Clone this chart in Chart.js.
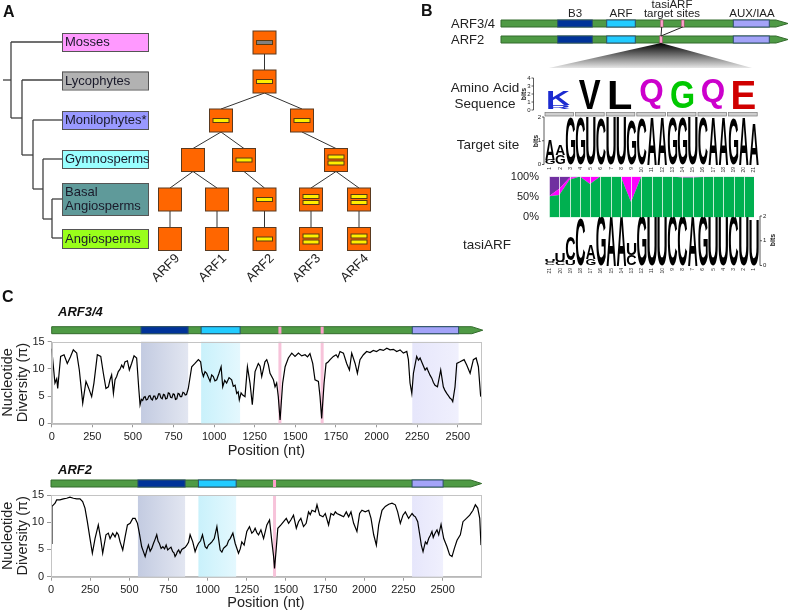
<!DOCTYPE html>
<html>
<head>
<meta charset="utf-8">
<script src="https://cdn.jsdelivr.net/npm/chart.js@4.4.1/dist/chart.umd.min.js"></script>
<style>
body { margin: 0; background: #fff; width: 792px; height: 613px; overflow: hidden; position: relative; font-family: "Liberation Sans", Arial, sans-serif; }
canvas { position: absolute; }
.lbl { position: absolute; font-weight: bold; color: #111; z-index: 5; }
</style>
</head>
<body>
<canvas id="diagram" width="792" height="613" style="left:0;top:0"></canvas>
<div class="lbl" style="left:3px;top:3px;font-size:16px">A</div>
<div class="lbl" style="left:421px;top:2px;font-size:16px">B</div>
<div class="lbl" style="left:2px;top:288px;font-size:16px">C</div>
<div class="lbl" style="left:58px;top:304px;font-size:13px;font-style:italic">ARF3/4</div>
<div class="lbl" style="left:58px;top:462px;font-size:13px;font-style:italic">ARF2</div>
<canvas id="arf34Chart" width="490" height="142" style="left:0;top:318px"></canvas>
<canvas id="arf2Chart" width="490" height="150" style="left:0;top:462px"></canvas>
<canvas id="pairChart" width="260" height="58" style="left:505px;top:168px"></canvas>
<script>
// ---- panel C data: sliding-window nucleotide diversity ----
var arf34Pos = [0, 20, 31, 37, 55, 76, 96, 115, 133, 154, 170, 191, 211, 222, 232, 246, 260, 281, 302, 318,
    334, 349, 359, 369, 380, 390, 400, 410, 420, 431, 441, 451, 466, 478, 492, 507, 523, 536, 544, 552,
    560, 568, 575, 582, 590, 598, 605, 612, 620, 628, 635, 642, 650, 658, 665, 672, 680, 688, 695, 702,
    710, 718, 725, 732, 740, 748, 755, 762, 770, 778, 785, 792, 800, 808, 815, 822, 830, 841, 862, 882,
    903, 917, 925, 934, 944, 954, 965, 975, 985, 995, 1005, 1016, 1030, 1043, 1053, 1065, 1077, 1092, 1108, 1118,
    1129, 1139, 1148, 1155, 1166, 1176, 1190, 1205, 1221, 1235, 1252, 1272, 1283, 1293, 1313, 1324, 1334, 1344, 1365, 1375,
    1385, 1395, 1406, 1422, 1437, 1457, 1478, 1498, 1519, 1539, 1560, 1575, 1590, 1607, 1621, 1642, 1652, 1662, 1677, 1689,
    1700, 1714, 1734, 1751, 1762, 1775, 1796, 1816, 1833, 1847, 1868, 1882, 1898, 1919, 1939, 1960, 1980, 2000, 2021, 2042,
    2063, 2083, 2104, 2124, 2145, 2165, 2186, 2196, 2206, 2217, 2227, 2247, 2258, 2268, 2282, 2299, 2310, 2319, 2330, 2340,
    2350, 2360, 2375, 2395, 2411, 2420, 2432, 2442, 2453, 2462, 2469, 2483, 2494, 2514, 2539, 2555, 2576, 2596, 2613, 2627, 2641];
var arf34Pi = [13.7, 7.4, 8.2, 6.4, 12.3, 12.6, 11, 12.2, 13.5, 12.9, 9.8, 3.7, 7.7, 6.9, 6.1, 4.9, 7.4, 12.6, 12.3, 9.2,
    6.4, 6.7, 8, 8.9, 5.5, 8, 8.6, 9.5, 9.9, 10.7, 10.2, 11.3, 11.5, 9.8, 11, 12.4, 12, 6.4, 3.4, 4.4,
    4.2, 4.8, 4.9, 4.3, 4.4, 5.0, 5.1, 4.5, 4.3, 5.0, 5.0, 4.4, 4.6, 5.4, 5.4, 4.7, 4.5, 5.3, 5.2, 4.5,
    4.6, 5.6, 5.5, 4.8, 4.7, 5.4, 5.3, 4.4, 4.5, 5.5, 5.4, 4.9, 4.9, 5.7, 5.6, 5.2, 5.3, 6.4, 10.4, 11,
    11.7, 11.3, 9.5, 8.6, 9.5, 9.2, 8.4, 7.7, 8.9, 8.6, 7.8, 8, 9.2, 10.4, 6.7, 7.9, 7.4, 8.4, 8, 6.8,
    7, 5.5, 5.8, 4.3, 5.6, 5.2, 4.9, 10.4, 7.4, 3.4, 9.5, 11, 10.5, 8.6, 11.3, 11.7, 10.8, 9.2, 8, 6.7,
    7.4, 4.9, 0.6, 7.4, 10.4, 12, 12.9, 12.3, 12.9, 12.4, 12.6, 12.2, 12.8, 11, 8, 7.7, 4.9, 0.9, 7.4, 11,
    11.2, 11.7, 12.3, 12.6, 12.1, 13.2, 12.9, 11, 9.8, 12.9, 11, 9.2, 11.7, 12.6, 13.2, 13, 13.4, 13.2, 13.6, 13.4,
    13.8, 13.5, 13.6, 13.2, 13.5, 12.9, 13.2, 11.7, 7.4, 5.5, 9.2, 12.3, 11.6, 12, 11, 9.8, 10.2, 9.5, 8.8, 8.3,
    7.5, 7, 6.7, 9.8, 6.7, 6.1, 5.5, 5.1, 4.6, 4.4, 4, 6.7, 11, 11.3, 11.7, 10.7, 9.2, 11.7, 12, 10.4, 4.9];

var arf2Pos = [0, 6, 26, 36, 57, 79, 100, 121, 143, 164, 185, 202, 217, 232, 249, 264, 281, 302, 317, 330,
    351, 366, 377, 394, 409, 420, 430, 441, 458, 473, 488, 505, 522, 537, 552, 564, 579, 590, 601, 612,
    622, 633, 643, 654, 665, 675, 684, 692, 703, 714, 725, 735, 745, 756, 766, 777, 785, 792, 800, 807,
    815, 824, 835, 846, 857, 867, 878, 888, 905, 920, 930, 941, 955, 967, 984, 995, 1005, 1017, 1027, 1042,
    1059, 1070, 1080, 1091, 1101, 1112, 1123, 1133, 1144, 1161, 1176, 1197, 1208, 1218, 1233, 1250, 1267, 1282, 1293, 1303,
    1314, 1325, 1340, 1357, 1378, 1395, 1410, 1421, 1427, 1438, 1448, 1468, 1485, 1502, 1517, 1531, 1548, 1566, 1580, 1595,
    1612, 1629, 1644, 1655, 1666, 1687, 1698, 1715, 1736, 1751, 1772, 1787, 1804, 1815, 1825, 1847, 1868, 1885, 1900, 1915,
    1932, 1953, 1970, 1985, 2006, 2028, 2043, 2060, 2077, 2092, 2113, 2134, 2156, 2177, 2198, 2213, 2230, 2247, 2262, 2283,
    2305, 2316, 2326, 2341, 2354, 2364, 2375, 2390, 2400, 2411, 2422, 2432, 2440, 2447, 2456, 2464, 2475, 2490, 2507, 2528,
    2545, 2560, 2575, 2592, 2613, 2630, 2652, 2673, 2694, 2709, 2724, 2737, 2745];
var arf2Pi = [6.1, 12.9, 13.5, 14.1, 14.1, 14.3, 14.4, 14.6, 14.4, 14.3, 14.3, 13.8, 12.6, 10.1, 7, 4.3, 7, 9.5, 7, 4.3,
    7.7, 8, 7, 8, 7.3, 8.1, 7.7, 6.4, 4.9, 7.3, 9.5, 9.8, 10.7, 10.7, 9.8, 8, 5.5, 4.6, 3.7, 4.9,
    5.8, 4.7, 5.2, 6.1, 6.9, 7.7, 6.5, 6.1, 5.2, 5.5, 5.1, 5.8, 4.9, 5.2, 5.4, 4.6, 4.4, 3.7, 4.1, 4.6,
    4.9, 4.3, 5.0, 5.2, 5.4, 5.8, 6.3, 7.7, 6.4, 4.6, 5.4, 6.1, 6.6, 7.7, 5.5, 5.2, 5.8, 6.1, 6.4, 7,
    9.2, 6.9, 4.9, 4.5, 5.2, 5.5, 5.8, 6.6, 7, 8, 6.1, 4.3, 5.1, 6.4, 5.8, 8.3, 9.2, 8, 8.3, 8.9,
    8.1, 7.7, 8.6, 7, 9.5, 10.4, 6.4, 3.7, 1.5, 5.2, 8.9, 9.5, 10.1, 10.7, 9.8, 10.4, 11.3, 8.9, 10.1, 10.7,
    9.2, 9.8, 11.9, 11.4, 12.2, 11.9, 13.2, 11.3, 11, 11.6, 9.5, 11.6, 11.3, 11.9, 11.6, 11.3, 11, 11.9, 11, 11.9,
    9.8, 8.3, 11.6, 12.2, 11.9, 12.2, 10.7, 7.7, 5.8, 9.5, 12.2, 12.9, 13.3, 13.5, 13.2, 11.9, 9.8, 11.3, 11.9, 10.7,
    11.6, 11.2, 11, 10.1, 7.7, 5.8, 4.6, 6.4, 6.0, 7, 7.6, 8.3, 7.2, 7.7, 8.2, 8.6, 7.7, 9.6, 7, 5.5,
    4, 3.7, 5.2, 6.7, 7.7, 10.1, 10.7, 11.3, 12.2, 13.2, 12.6, 10.7, 5.8];

var positionTicks = [0, 250, 500, 750, 1000, 1250, 1500, 1750, 2000, 2250, 2500];
var diversityTicks = [0, 5, 10, 15];

// gene models (nt)
var domainKinds = ['b3', 'arf', 'aux'];
var arf34DomainStart = [550, 920, 2220];
var arf34DomainEnd = [840, 1160, 2505];
var arf34Sites = [1405, 1665];
var arf34Length = 2654;
var arf34Max = 2643;
var arf2DomainStart = [555, 941, 2305];
var arf2DomainEnd = [856, 1182, 2503];
var arf2Sites = [1427];
var arf2Length = 2749;
var arf2Max = 2745;

// ---- panel B data ----
var pairLabels = ['1','2','3','4','5','6','7','8','9','10','11','12','13','14','15','16','17','18','19','20','21'];
var pairMatch = [52, 55, 92, 100, 82, 100, 100, 100, 38, 100, 100, 100, 100, 98, 98, 99, 100, 100, 100, 100, 99];
var pairGU = [0, 15, 5, 0, 18, 0, 0, 0, 62, 0, 0, 0, 0, 2, 2, 1, 0, 0, 0, 0, 1];
var pairMismatch = [48, 30, 3, 0, 0, 0, 0, 0, 0, 0, 0, 0, 0, 0, 0, 0, 0, 0, 0, 0, 0];

var aaLetters = ['K', 'V', 'L', 'Q', 'G', 'Q', 'E'];
var aaBits = [1.7, 3.6, 3.5, 3.7, 3.5, 3.7, 3.5];
var aaMinor = ['R', '', '', '', '', '', ''];
var aaMinorBits = [0.45, 0, 0, 0, 0, 0, 0];
var aaColors = ['#1c2bd0', '#000', '#000', '#cc00cc', '#00c800', '#cc00cc', '#d00000'];

var targetLetters = 'AAGGUCUUGCAAGGUCAAGAA'.split('');
var targetBits = [0.85, 0.45, 2, 2, 2, 1.95, 2, 2, 1.9, 1.95, 2, 2, 2, 2, 2, 2, 2, 2, 1.95, 2, 1.75];
var targetMinor = ['G', 'G', '', '', '', '', '', '', '', '', '', '', '', '', '', '', '', '', '', '', ''];
var targetMinorBits = [0.2, 0.4, 0, 0, 0, 0, 0, 0, 0, 0, 0, 0, 0, 0, 0, 0, 0, 0, 0, 0, 0];

var tasiLetters = 'UUCCAGAAUGUUCCAGUUCUU'.split('');
var tasiBits = [0.12, 0.35, 0.95, 1.9, 0.55, 2, 2, 2, 0.45, 2, 2, 2, 2, 2, 2, 2, 2, 2, 2, 2, 1.85];
var tasiMinor = ['C', 'C', 'U', '', 'G', '', '', '', 'C', '', '', '', '', '', '', '', '', '', '', '', ''];
var tasiMinorBits = [0.12, 0.15, 0.2, 0, 0.25, 0, 0, 0, 0.4, 0, 0, 0, 0, 0, 0, 0, 0, 0, 0, 0, 0];

// ---- panel A data ----
var clades = ['Mosses', 'Lycophytes', 'Monilophytes*', 'Gymnosperms', 'Basal\nAngiosperms', 'Angiosperms'];
var cladeColors = ['#ff99ff', '#b2b2b2', '#9999ff', '#99ffff', '#5f9a9a', '#99ff1a'];
var arfNames = ['ARF9', 'ARF1', 'ARF2', 'ARF3', 'ARF4'];

Chart.defaults.font.family = '"Liberation Sans", Arial, sans-serif';
Chart.defaults.color = '#333';

// ================= static diagrams (panels A and B) =================
var dc = document.getElementById('diagram').getContext('2d');
dc.lineCap = 'butt';

function line(ctx, x0, y0, x1, y1) {
    ctx.beginPath();
    ctx.moveTo(x0, y0);
    ctx.lineTo(x1, y1);
    ctx.stroke();
}

// cladogram
dc.strokeStyle = '#404040';
dc.lineWidth = 1.3;
[[3, 80, 11, 80], [11, 42, 11, 118], [11, 42, 62, 42], [11, 118, 22, 118], [22, 80, 22, 155], [22, 80, 62, 80],
 [22, 155, 33, 155], [33, 120, 33, 189], [33, 120, 62, 120], [33, 189, 43, 189], [43, 159, 43, 219], [43, 159, 62, 159],
 [43, 219, 52, 219], [52, 199, 52, 238], [52, 199, 62, 199], [52, 238, 62, 238]].forEach(function (s) {
    line(dc, s[0], s[1], s[2], s[3]);
});

var cladeBoxY = [33, 71.5, 111, 150, 183, 229];
var cladeBoxH = [18, 18, 18, 18, 32, 19];
dc.font = '13px "Liberation Sans", Arial, sans-serif';
dc.textBaseline = 'middle';
clades.forEach(function (name, i) {
    dc.fillStyle = cladeColors[i];
    dc.fillRect(62, cladeBoxY[i], 86, cladeBoxH[i]);
    dc.strokeStyle = '#555';
    dc.lineWidth = 1;
    dc.strokeRect(62.5, cladeBoxY[i] + 0.5, 86, cladeBoxH[i]);
    dc.fillStyle = '#1a1a2a';
    var lines = name.split('\n');
    lines.forEach(function (t, k) {
        var cy = cladeBoxY[i] + cladeBoxH[i] / 2 + (k - (lines.length - 1) / 2) * 14.5;
        dc.fillText(t, 65, cy + 0.5);
    });
});

// ARF gene family tree
var nodes = {
    r1: [264.5, 42.5, 'gray'], r2: [264.5, 81.5, 1],
    a: [221, 120.5, 1], b: [302, 120.5, 1],
    a1: [193, 160, 0], a2: [244, 160, 1], b1: [336, 160, 2],
    l9: [170, 199.5, 0], l1: [217, 199.5, 0], l2: [264.5, 199.5, 1], l3: [311, 199.5, 2], l4: [359, 199.5, 2],
    t9: [170, 239, 0], t1: [217, 239, 0], t2: [264.5, 239, 1], t3: [311, 239, 2], t4: [359, 239, 2]
};
var edges = [['r1', 'r2'], ['r2', 'a'], ['r2', 'b'], ['a', 'a1'], ['a', 'a2'], ['b', 'b1'],
    ['a1', 'l9'], ['a1', 'l1'], ['a2', 'l2'], ['b1', 'l3'], ['b1', 'l4'],
    ['l9', 't9'], ['l1', 't1'], ['l2', 't2'], ['l3', 't3'], ['l4', 't4']];
dc.strokeStyle = '#333';
dc.lineWidth = 1;
edges.forEach(function (e) {
    var p = nodes[e[0]], c = nodes[e[1]];
    line(dc, p[0], p[1] + 11.5, c[0], c[1] - 11.5);
});
Object.keys(nodes).forEach(function (k) {
    var n = nodes[k];
    dc.fillStyle = '#ff6600';
    dc.fillRect(n[0] - 11.5, n[1] - 11.5, 23, 23);
    dc.strokeStyle = '#5a3a20';
    dc.strokeRect(n[0] - 11.5, n[1] - 11.5, 23, 23);
    var bars = n[2] === 'gray' ? [0] : (n[2] === 1 ? [0] : (n[2] === 2 ? [-3, 3] : []));
    bars.forEach(function (off) {
        dc.fillStyle = n[2] === 'gray' ? '#808080' : '#ffee00';
        dc.fillRect(n[0] - 8, n[1] + off - 2, 16, 4);
        dc.strokeStyle = '#5a3a10';
        dc.strokeRect(n[0] - 8, n[1] + off - 2, 16, 4);
    });
});
dc.fillStyle = '#222';
dc.font = '13px "Liberation Sans", Arial, sans-serif';
dc.textAlign = 'right';
dc.textBaseline = 'alphabetic';
['t9', 't1', 't2', 't3', 't4'].forEach(function (k, i) {
    var n = nodes[k];
    dc.save();
    dc.translate(n[0] + 10, n[1] + 20);
    dc.rotate(-Math.PI / 4);
    dc.fillText(arfNames[i], 0, 0);
    dc.restore();
});

// panel B: gene models
function geneModel(y, sites) {
    var x0 = 501, xh = 776, xe = 788, h = 7;
    dc.fillStyle = '#4f9a45';
    dc.beginPath();
    dc.moveTo(x0, y); dc.lineTo(xh, y); dc.lineTo(xe, y + h / 2); dc.lineTo(xh, y + h); dc.lineTo(x0, y + h);
    dc.closePath();
    dc.fill();
    dc.strokeStyle = '#336b2c';
    dc.lineWidth = 1;
    dc.stroke();
    [[557.7, 592.3, '#003399'], [606.7, 635.3, '#22ccff'], [733.3, 769.3, '#a3a3f8']].forEach(function (d) {
        dc.fillStyle = d[2];
        dc.fillRect(d[0], y, d[1] - d[0], h);
        dc.strokeStyle = '#2d4f6a';
        dc.strokeRect(d[0], y, d[1] - d[0], h);
    });
    sites.forEach(function (sx) {
        dc.fillStyle = '#ff9fcc';
        dc.fillRect(sx - 1.5, y, 3, h);
        dc.strokeStyle = '#8a4a5a';
        dc.lineWidth = 0.5;
        dc.strokeRect(sx - 1.5, y, 3, h);
        dc.lineWidth = 1;
    });
}
geneModel(20, [661.7, 682.7]);
geneModel(36, [661]);
dc.strokeStyle = '#222';
dc.lineWidth = 1;
line(dc, 661.7, 27, 661, 36);
line(dc, 682.7, 27, 661, 36);

dc.font = '13px "Liberation Sans", Arial, sans-serif';
dc.textAlign = 'left';
dc.textBaseline = 'middle';
dc.fillStyle = '#222';
dc.fillText('ARF3/4', 451, 24);
dc.fillText('ARF2', 451, 40);
dc.font = '11.5px "Liberation Sans", Arial, sans-serif';
dc.textAlign = 'center';
dc.fillText('B3', 575, 14);
dc.fillText('ARF', 621, 14);
dc.fillText('tasiARF', 672, 4.5);
dc.fillText('target sites', 672, 14);
dc.fillText('AUX/IAA', 752, 14);

// zoom wedge
var wg = dc.createLinearGradient(0, 43, 0, 68);
wg.addColorStop(0, '#000');
wg.addColorStop(1, '#e6e6e6');
dc.fillStyle = wg;
dc.beginPath();
dc.moveTo(661, 43); dc.lineTo(752, 68); dc.lineTo(549, 68);
dc.closePath();
dc.fill();

dc.fillStyle = '#222';
dc.font = '13.5px "Liberation Sans", Arial, sans-serif';
dc.fillText('Amino Acid', 485, 88);
dc.fillText('Sequence', 485, 104);
dc.fillText('Target site', 488, 145);
dc.fillText('tasiARF', 487, 245);

// sequence logos
function glyph(ctx, ch, color, cx, bottom, w, h) {
    if (!ch || h <= 0.2) return;
    ctx.save();
    ctx.font = 'bold 100px "Liberation Sans", Arial, sans-serif';
    ctx.textAlign = 'left';
    ctx.textBaseline = 'alphabetic';
    var m = ctx.measureText(ch);
    var gw = m.actualBoundingBoxLeft + m.actualBoundingBoxRight;
    var gh = m.actualBoundingBoxAscent + m.actualBoundingBoxDescent;
    ctx.translate(cx - w / 2, bottom - h);
    ctx.scale(w / gw, h / gh);
    ctx.fillStyle = color;
    ctx.fillText(ch, m.actualBoundingBoxLeft, m.actualBoundingBoxAscent);
    ctx.restore();
}
function bitsAxis(x, top, bottom, max, side, labelX, labelY) {
    dc.strokeStyle = '#333';
    dc.lineWidth = 0.8;
    line(dc, x, top, x, bottom);
    dc.fillStyle = '#222';
    dc.font = '6px "Liberation Sans", Arial, sans-serif';
    dc.textAlign = side < 0 ? 'right' : 'left';
    dc.textBaseline = 'middle';
    for (var v = 0; v <= max; v++) {
        var y = bottom - (bottom - top) * v / max;
        line(dc, x, y, x + side * 2, y);
        dc.fillText(String(v), x + side * 3, y);
    }
    dc.save();
    dc.translate(labelX, labelY);
    dc.rotate(-Math.PI / 2);
    dc.textAlign = 'center';
    dc.font = 'bold 7px "Liberation Sans", Arial, sans-serif';
    dc.fillText('bits', 0, 0);
    dc.restore();
}
function positionNumbers(labels, x0, step, y) {
    dc.fillStyle = '#333';
    dc.font = '5px "Liberation Sans", Arial, sans-serif';
    dc.textAlign = 'right';
    dc.textBaseline = 'middle';
    labels.forEach(function (t, i) {
        dc.save();
        dc.translate(x0 + step * i, y);
        dc.rotate(-Math.PI / 2);
        dc.fillText(t, 0, 0);
        dc.restore();
    });
}

// amino acid logo
bitsAxis(533.5, 78, 110, 4, -1, 524, 94);
aaLetters.forEach(function (ch, i) {
    var cx = 559 + 30.8 * i, base = 108.5, ppb = 8;
    var mh = aaMinorBits[i] * ppb;
    glyph(dc, aaMinor[i], aaColors[i], cx, base, 22, mh);
    glyph(dc, ch, aaColors[i], cx, base - mh, 22, aaBits[i] * ppb);
});
for (var c = 0; c < 7; c++) {
    dc.fillStyle = '#cfcfcf';
    dc.fillRect(544 + 30.6 * c + 1, 112.5, 28.6, 3.5);
    dc.strokeStyle = '#7a7a7a';
    dc.lineWidth = 0.7;
    dc.strokeRect(544 + 30.6 * c + 1, 112.5, 28.6, 3.5);
}

// target site logo
bitsAxis(544, 117, 164.5, 2, -1, 536, 141);
targetLetters.forEach(function (ch, i) {
    var cx = 550 + 10.2 * i, base = 164.5, ppb = 23.7;
    var mh = targetMinorBits[i] * ppb;
    glyph(dc, targetMinor[i], '#000', cx, base, 9.4, mh);
    glyph(dc, ch, '#000', cx, base - mh, 9.4, targetBits[i] * ppb);
});
positionNumbers(pairLabels, 550, 10.2, 167);

// tasiARF logo
bitsAxis(760, 216, 265.5, 2, 1, 773, 240);
tasiLetters.forEach(function (ch, i) {
    var cx = 550 + 10.2 * i, base = 265.5, ppb = 24.7;
    var mh = tasiMinorBits[i] * ppb;
    glyph(dc, tasiMinor[i], '#000', cx, base, 9.4, mh);
    glyph(dc, ch, '#000', cx, base - mh, 9.4, tasiBits[i] * ppb);
});
positionNumbers(pairLabels.slice().reverse(), 550, 10.2, 268);

// ================= panel B: base pairing (Chart.js) =================
var columnLines = {
    id: 'columnLines',
    afterDatasetsDraw: function (chart) {
        var ctx = chart.ctx, a = chart.chartArea, x = chart.scales.x;
        ctx.save();
        ctx.strokeStyle = 'rgba(255,255,255,0.75)';
        ctx.lineWidth = 1;
        chart.data.labels.forEach(function (l, i) {
            var px = Math.round(x.getPixelForValue(i)) + 0.5;
            ctx.beginPath();
            ctx.moveTo(px, a.top);
            ctx.lineTo(px, a.bottom);
            ctx.stroke();
        });
        ctx.restore();
    }
};
new Chart(document.getElementById('pairChart'), {
    type: 'line',
    data: {
        labels: pairLabels,
        datasets: [
            { label: 'Watson-Crick', data: pairMatch, backgroundColor: '#00b050', borderWidth: 0, fill: 'origin', pointRadius: 0 },
            { label: 'G:U', data: pairGU, backgroundColor: '#ff00ff', borderWidth: 0, fill: '-1', pointRadius: 0 },
            { label: 'Mismatch', data: pairMismatch, backgroundColor: '#7030a0', borderWidth: 0, fill: '-1', pointRadius: 0 }
        ]
    },
    options: {
        responsive: false,
        devicePixelRatio: 1,
        animation: false,
        layout: { padding: { top: 8, right: 11, bottom: 7, left: 0 } },
        plugins: { legend: { display: false }, tooltip: { enabled: false } },
        scales: {
            x: { display: false, offset: false },
            y: {
                stacked: true, min: 0, max: 100,
                ticks: { stepSize: 50, callback: function (v) { return v + '%'; }, font: { size: 11 }, color: '#222', padding: 2 },
                grid: { display: false },
                border: { display: false },
                afterFit: function (s) { s.width = 44; }
            }
        }
    },
    plugins: [columnLines]
});

// ================= panel C: nucleotide diversity (Chart.js) =================
var shadeLeft = { b3: '#c3cbe1', arf: '#c9f1fb', aux: '#e6e6fb' };
var shadeRight = { b3: '#e2e6f1', arf: '#e4f8fe', aux: '#f0f0fd' };
var barColor = { b3: '#003399', arf: '#22ccff', aux: '#a3a3f8' };

var geneTrack = {
    id: 'geneTrack',
    beforeDatasetsDraw: function (chart, args, opts) {
        var ctx = chart.ctx, a = chart.chartArea, x = chart.scales.x;
        ctx.save();
        opts.starts.forEach(function (s, i) {
            var x0 = x.getPixelForValue(s), x1 = x.getPixelForValue(opts.ends[i]);
            var g = ctx.createLinearGradient(x0, 0, x1, 0);
            g.addColorStop(0, shadeLeft[domainKinds[i]]);
            g.addColorStop(1, shadeRight[domainKinds[i]]);
            ctx.fillStyle = g;
            ctx.fillRect(x0, a.top, x1 - x0, a.bottom - a.top);
        });
        opts.sites.forEach(function (s) {
            var px = x.getPixelForValue(s);
            ctx.fillStyle = '#f7c3da';
            ctx.fillRect(px - 1.5, a.top, 3, a.bottom - a.top);
        });
        ctx.restore();
    },
    afterDraw: function (chart, args, opts) {
        var ctx = chart.ctx, a = chart.chartArea, x = chart.scales.x;
        ctx.save();
        ctx.strokeStyle = '#c4c4c4';
        ctx.lineWidth = 1;
        ctx.strokeRect(Math.round(a.left) + 0.5, Math.round(a.top) + 0.5, Math.round(a.right - a.left), Math.round(a.bottom - a.top));
        var y = a.top - 15, h = 7;
        var x0 = x.getPixelForValue(0), xe = x.getPixelForValue(opts.length), xh = xe - 11;
        ctx.fillStyle = '#4f9a45';
        ctx.beginPath();
        ctx.moveTo(x0, y); ctx.lineTo(xh, y); ctx.lineTo(xe, y + h / 2); ctx.lineTo(xh, y + h); ctx.lineTo(x0, y + h);
        ctx.closePath();
        ctx.fill();
        ctx.strokeStyle = '#336b2c';
        ctx.stroke();
        opts.starts.forEach(function (s, i) {
            var d0 = x.getPixelForValue(s), d1 = x.getPixelForValue(opts.ends[i]);
            ctx.fillStyle = barColor[domainKinds[i]];
            ctx.fillRect(d0, y, d1 - d0, h);
            ctx.strokeStyle = '#2d4f6a';
            ctx.strokeRect(d0, y, d1 - d0, h);
        });
        opts.sites.forEach(function (s) {
            var px = x.getPixelForValue(s);
            ctx.fillStyle = '#ff9fcc';
            ctx.fillRect(px - 1.5, y, 3, h);
        });
        ctx.restore();
    }
};

function diversityChart(id, pos, pi, maxX, starts, ends, sites, length, axisHeight) {
    return new Chart(document.getElementById(id), {
        type: 'line',
        data: {
            datasets: [{
                label: 'Nucleotide diversity',
                data: pos.map(function (p, i) { return { x: p, y: pi[i] }; }),
                borderColor: '#000',
                borderWidth: 1.2,
                pointRadius: 0,
                tension: 0,
                fill: false
            }]
        },
        options: {
            responsive: false,
            devicePixelRatio: 1,
            animation: false,
            layout: { padding: { top: id === 'arf34Chart' ? 23.7 : 33, right: 9, bottom: 0, left: 0 } },
            plugins: {
                legend: { display: false },
                tooltip: { enabled: false },
                geneTrack: { starts: starts, ends: ends, sites: sites, length: length }
            },
            scales: {
                x: {
                    type: 'linear', min: 0, max: maxX,
                    ticks: {
                        autoSkip: false, font: { size: 11 }, color: '#222', padding: 3, maxRotation: 0,
                        callback: function (v) { return String(v); }
                    },
                    afterBuildTicks: function (s) {
                        s.ticks = positionTicks.map(function (v) { return { value: v }; });
                    },
                    grid: { drawOnChartArea: false, tickLength: 4, color: '#999' },
                    border: { color: '#b8b8b8' },
                    title: { display: true, text: 'Position (nt)', font: { size: 14.5 }, color: '#222', padding: 0 },
                    afterFit: function (s) { s.height = axisHeight; }
                },
                y: {
                    min: 0, max: 15,
                    ticks: { autoSkip: false, font: { size: 11 }, color: '#222', padding: 3 },
                    afterBuildTicks: function (s) {
                        s.ticks = diversityTicks.map(function (v) { return { value: v }; });
                    },
                    grid: { drawOnChartArea: false, tickLength: 4, color: '#999' },
                    border: { color: '#b8b8b8' },
                    title: { display: true, text: ['Nucleotide', 'Diversity (\u03c0)'], font: { size: 14.5, lineHeight: 1.05 }, color: '#222', padding: 0 },
                    afterFit: function (s) { s.width = id === 'arf34Chart' ? 51.7 : 51; }
                }
            }
        },
        plugins: [geneTrack]
    });
}

diversityChart('arf34Chart', arf34Pos, arf34Pi, arf34Max, arf34DomainStart, arf34DomainEnd, arf34Sites, arf34Length, 36.7);
diversityChart('arf2Chart', arf2Pos, arf2Pi, arf2Max, arf2DomainStart, arf2DomainEnd, arf2Sites, arf2Length, 35.3);
</script>
</body>
</html>
